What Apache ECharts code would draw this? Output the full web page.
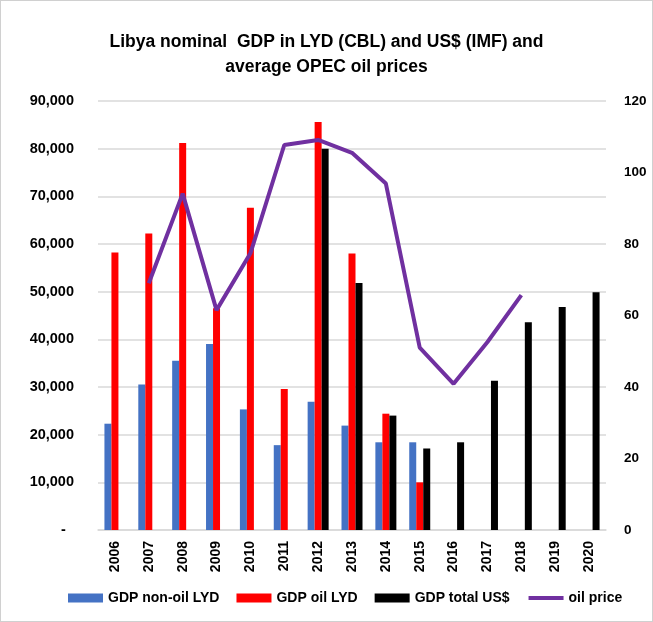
<!DOCTYPE html>
<html>
<head>
<meta charset="utf-8">
<script src="https://cdn.jsdelivr.net/npm/echarts@6/dist/echarts.min.js"></script>
<style>
  html, body { margin: 0; padding: 0; background: #fff; }
  #chart { width: 651px; height: 620px; border: 1px solid #d0d0d0; }
</style>
</head>
<body>
<div id="chart"></div>
<script>
// data
let years = ['2006', '2007', '2008', '2009', '2010', '2011', '2012', '2013', '2014', '2015', '2016', '2017', '2018', '2019', '2020']
let nonOilLyd = [22300, 30500, 35500, 39000, 25300, 17800, 26900, 21900, 18400, 18400, null, null, null, null, null]
let oilLyd = [58200, 62200, 81200, 46500, 67600, 29600, 85600, 58000, 24400, 10000, null, null, null, null, null]
let totalUsd = [null, null, null, null, null, null, 80000, 51800, 24000, 17100, 18400, 31300, 43600, 46800, 49900]
let oilPrice = [null, 69.0, 94.1, 61.5, 77.4, 107.7, 109.1, 105.5, 96.9, 51.0, 40.9, 52.6, 65.7, null, null]

let font = 'Liberation Sans'
let myChart = echarts.init(document.getElementById('chart'))

let option = {
    animation: false,
    title: {
        text: 'Libya nominal  GDP in LYD (CBL) and US$ (IMF) and\naverage OPEC oil prices',
        left: 'center',
        top: 24,
        textStyle: { fontFamily: font, fontSize: 17.5, fontWeight: 'bold', color: '#000', lineHeight: 25 }
    },
    grid: { left: 97, right: 46, top: 100, bottom: 91 },
    legend: {
        bottom: 11,
        left: 62,
        itemWidth: 35,
        itemHeight: 9,
        itemGap: 17,
        textStyle: { fontFamily: font, fontSize: 14, fontWeight: 'bold', color: '#000' },
        data: [
            { name: 'GDP non-oil LYD', icon: 'rect' },
            { name: 'GDP oil LYD', icon: 'rect' },
            { name: 'GDP total US$', icon: 'rect' },
            { name: 'oil price', itemStyle: { opacity: 0 }, lineStyle: { width: 4 } }
        ]
    },
    xAxis: {
        type: 'category',
        data: years,
        axisTick: { show: false },
        axisLine: { lineStyle: { color: '#d9d9d9', width: 1.5 } },
        axisLabel: { rotate: 90, margin: 11, fontFamily: font, fontSize: 14, fontWeight: 'bold', color: '#000' }
    },
    yAxis: [{
        type: 'value',
        min: 0,
        max: 90000,
        interval: 10000,
        axisLine: { show: false },
        axisTick: { show: false },
        splitLine: { lineStyle: { color: '#d9d9d9', width: 1.5 } },
        axisLabel: {
            margin: 24,
            fontFamily: font, fontSize: 14.5, fontWeight: 'bold', color: '#000',
            formatter: function(v) { return v === 0 ? '-  ' : v.toLocaleString('en-US') }
        }
    }, {
        type: 'value',
        min: 0,
        max: 120,
        interval: 20,
        axisLine: { show: false },
        axisTick: { show: false },
        splitLine: { show: false },
        axisLabel: { margin: 18, fontFamily: font, fontSize: 13.5, fontWeight: 'bold', color: '#000' }
    }],
    series: [{
        name: 'GDP non-oil LYD',
        type: 'bar',
        data: nonOilLyd,
        barWidth: 7,
        barGap: '0%',
        itemStyle: { color: '#4472c4' }
    }, {
        name: 'GDP oil LYD',
        type: 'bar',
        data: oilLyd,
        barWidth: 7,
        barGap: '0%',
        itemStyle: { color: '#ff0000' }
    }, {
        name: 'GDP total US$',
        type: 'bar',
        data: totalUsd,
        barWidth: 7,
        barGap: '0%',
        itemStyle: { color: '#000000' }
    }, {
        name: 'oil price',
        type: 'line',
        yAxisIndex: 1,
        data: oilPrice,
        symbol: 'none',
        lineStyle: { color: '#7030a0', width: 4 },
        itemStyle: { color: '#7030a0' }
    }]
}
myChart.setOption(option)
</script>
</body>
</html>
